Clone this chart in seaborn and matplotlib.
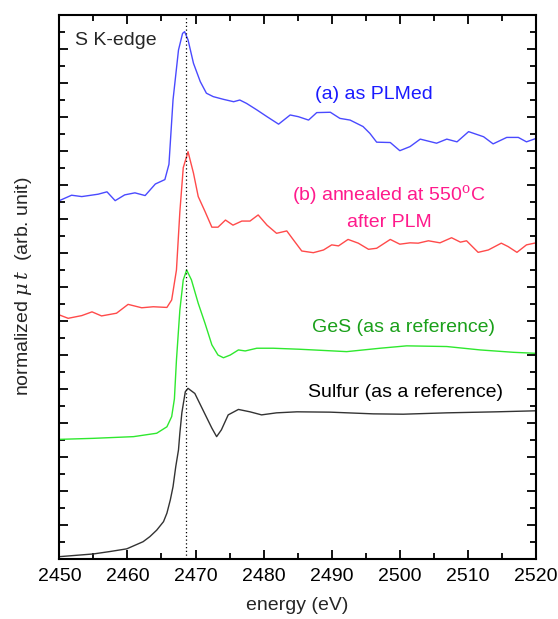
import seaborn as sns
import matplotlib.pyplot as plt
import pandas as pd
import numpy as np

# (a) as PLMed
blue_e = [2450.0, 2451.8, 2453.3, 2455.7, 2457.0, 2458.2, 2459.6, 2461.1, 2462.6, 2464.1,
          2465.5, 2466.1, 2466.7, 2467.5, 2468.1, 2468.4, 2468.9, 2469.7, 2470.7, 2471.6,
          2472.6, 2474.1, 2475.6, 2476.5, 2477.5, 2479.0, 2480.5, 2482.2, 2483.9, 2485.1,
          2486.6, 2487.8, 2489.8, 2491.2, 2492.7, 2494.6, 2495.6, 2496.6, 2498.6, 2500.0,
          2501.5, 2503.0, 2505.4, 2506.9, 2508.4, 2510.1, 2512.3, 2513.7, 2515.7, 2517.4,
          2518.6, 2520.0]
blue_v = [10.53, 10.69, 10.65, 10.72, 10.79, 10.53, 10.70, 10.76, 10.68, 11.02,
          11.15, 11.60, 13.50, 14.96, 15.45, 15.50, 15.26, 14.57, 14.03, 13.69,
          13.59, 13.51, 13.44, 13.49, 13.39, 13.20, 13.00, 12.78, 13.05, 13.00,
          12.90, 13.12, 13.13, 12.95, 12.90, 12.71, 12.51, 12.25, 12.24, 12.00,
          12.12, 12.34, 12.22, 12.34, 12.26, 12.56, 12.41, 12.20, 12.39, 12.39,
          12.26, 12.36]

# (b) annealed at 550C after PLM
red_e = [2450.0, 2451.3, 2453.3, 2454.8, 2456.2, 2458.4, 2460.1, 2462.1, 2463.8, 2465.8,
         2466.5, 2467.2, 2467.7, 2468.2, 2468.9, 2469.7, 2470.4, 2471.4, 2472.4, 2473.3,
         2474.4, 2475.5, 2476.8, 2478.0, 2479.2, 2480.5, 2481.9, 2483.4, 2484.4, 2485.6,
         2487.3, 2488.8, 2490.0, 2491.0, 2492.4, 2493.9, 2495.4, 2496.6, 2498.6, 2500.0,
         2501.5, 2502.7, 2504.2, 2505.9, 2507.6, 2508.9, 2509.8, 2511.5, 2513.0, 2514.9,
         2515.9, 2517.2, 2518.6, 2520.0]
red_v = [7.17, 7.07, 7.15, 7.26, 7.14, 7.22, 7.48, 7.38, 7.41, 7.39,
         7.61, 8.49, 10.20, 11.50, 11.97, 11.34, 10.65, 10.21, 9.75, 9.75,
         9.96, 9.81, 9.93, 9.93, 10.11, 9.81, 9.57, 9.64, 9.37, 9.05,
         9.00, 9.08, 9.23, 9.20, 9.39, 9.28, 9.10, 9.13, 9.39, 9.25,
         9.29, 9.28, 9.35, 9.29, 9.44, 9.31, 9.35, 9.01, 9.08, 9.28,
         9.18, 9.01, 9.23, 9.29]

# GeS reference
green_e = [2450.0, 2455.0, 2460.9, 2464.3, 2465.8, 2466.5, 2466.9, 2467.2, 2467.7, 2468.2,
           2468.7, 2469.4, 2470.4, 2471.4, 2472.4, 2473.3, 2474.1, 2475.1, 2476.3, 2477.3,
           2479.0, 2481.4, 2485.3, 2487.3, 2492.2, 2497.1, 2501.0, 2506.9, 2511.8, 2516.7,
           2520.0]
green_v = [3.51, 3.54, 3.59, 3.69, 3.88, 4.18, 4.70, 5.84, 7.31, 8.20,
           8.49, 8.20, 7.51, 6.92, 6.29, 5.99, 5.91, 5.99, 6.14, 6.11,
           6.19, 6.19, 6.16, 6.14, 6.09, 6.19, 6.26, 6.24, 6.14, 6.07,
           6.04]

# Sulfur reference
black_e = [2450.0, 2455.0, 2457.4, 2459.9, 2462.3, 2463.3, 2464.3, 2465.3, 2465.8, 2466.3,
           2466.7, 2467.1, 2467.5, 2467.7, 2468.0, 2468.5, 2468.9, 2469.9, 2471.1, 2472.4,
           2473.1, 2473.8, 2474.8, 2476.3, 2478.0, 2479.7, 2481.9, 2484.9, 2489.8, 2496.1,
           2500.5, 2506.9, 2514.2, 2520.0]
black_v = [0.06, 0.14, 0.21, 0.29, 0.50, 0.65, 0.84, 1.09, 1.34, 1.73,
           2.12, 2.71, 3.20, 3.69, 4.30, 4.91, 5.01, 4.86, 4.37, 3.84,
           3.59, 3.79, 4.23, 4.39, 4.32, 4.23, 4.29, 4.32, 4.31, 4.26,
           4.25, 4.29, 4.32, 4.35]

edge_energy = 2468.6

sns.set_style("ticks")
plt.rcParams['font.family'] = ['Liberation Sans', 'DejaVu Sans']
plt.rcParams['mathtext.fontset'] = 'dejavuserif'

fig = plt.figure(figsize=(5.58, 6.19), dpi=100)
ax = fig.add_axes([0.1063, 0.0974, 0.8543, 0.8789])

series = [
    (blue_e, blue_v, "#4a4aff"),
    (red_e, red_v, "#ff4a4a"),
    (green_e, green_v, "#2ee82e"),
    (black_e, black_v, "#333333"),
]
for e, v, c in series:
    sns.lineplot(x=e, y=v, ax=ax, color=c, lw=1.0, sort=False)

ax.axvline(edge_energy, color="black", ls=(0, (1, 2)), lw=0.9)

ax.set_xlim(2450, 2520)
ax.set_ylim(0, 16)
ax.set_xticks(np.arange(2450, 2521, 10))
ax.set_xticks(np.arange(2455, 2520, 10), minor=True)
ax.set_yticks(np.arange(0, 17, 1))
ax.set_yticks(np.arange(0.5, 16, 1), minor=True)
ax.set_yticklabels([])
ax.tick_params(which="both", direction="in", top=True, right=True, width=1.3, colors="black")
ax.tick_params(which="major", length=6.5, labelsize=14, pad=7)
ax.tick_params(which="minor", length=4)
for s in ax.spines.values():
    s.set_linewidth(1.5)
    s.set_color("black")

ax.set_xlabel("energy (eV)", fontsize=14, labelpad=8)
ax.set_ylabel(r"normalized $\mu\,t$  (arb. unit)", fontsize=14, labelpad=11)

ax.text(2452.3, 15.25, "S K-edge", fontsize=14, ha="left", va="center")
ax.text(2496.2, 13.64, "(a) as PLMed", fontsize=14, ha="center", va="center", color="#1a1aff")
ax.text(2498.4, 10.69, r"(b) annealed at 550$^{\mathrm{o}}$C", fontsize=14, ha="center",
        va="center", color="#ff1a8c")
ax.text(2498.4, 9.90, "after PLM", fontsize=14, ha="center", va="center", color="#ff1a8c")
ax.text(2500.5, 6.81, "GeS (as a reference)", fontsize=14, ha="center", va="center", color="#1aa01a")
ax.text(2500.9, 4.90, "Sulfur (as a reference)", fontsize=14, ha="center", va="center", color="black")

fig.savefig("out.png", dpi=100)
